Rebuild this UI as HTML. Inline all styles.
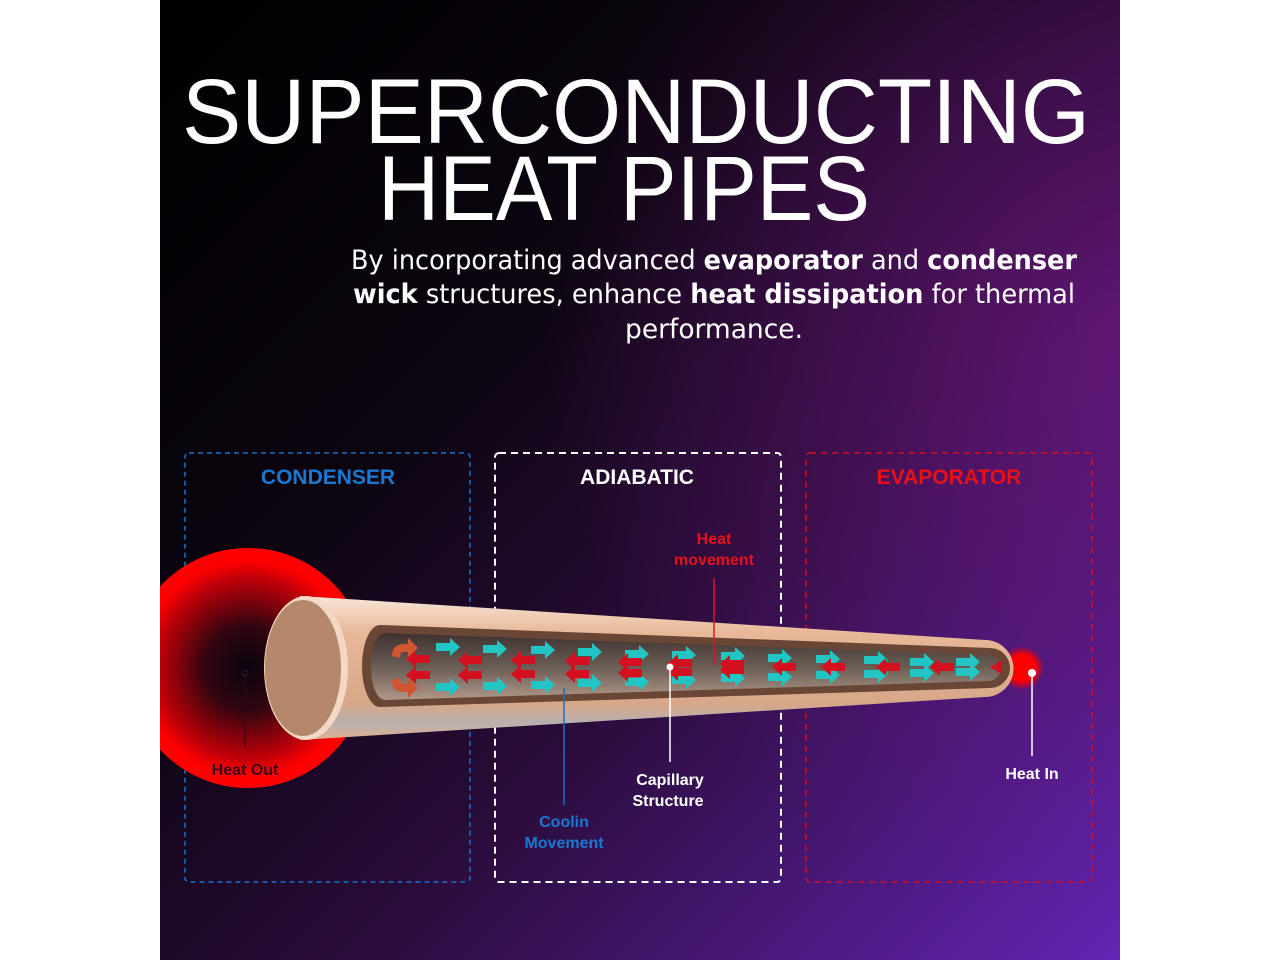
<!DOCTYPE html>
<html><head><meta charset="utf-8"><style>
html,body{margin:0;padding:0;background:#fff;}
svg{display:block;}
</style></head><body>
<svg width="1280" height="960" viewBox="0 0 1280 960" xmlns="http://www.w3.org/2000/svg" font-family="Liberation Sans, DejaVu Sans, sans-serif">
<defs>
<linearGradient id="bg" x1="0" y1="0" x2="1" y2="1">
<stop offset="0" stop-color="#000"/>
<stop offset="0.35" stop-color="#0c0510"/>
<stop offset="0.6" stop-color="#2a0c3a"/>
<stop offset="1" stop-color="#6424b4"/>
</linearGradient>
<radialGradient id="bg2" cx="1" cy="0.35" r="0.6">
<stop offset="0" stop-color="#7a1a8a" stop-opacity="0.6"/>
<stop offset="1" stop-color="#7a1a8a" stop-opacity="0"/>
</radialGradient>
<radialGradient id="glow" cx="0.5" cy="0.5" r="0.5">
<stop offset="0" stop-color="#0a0510"/>
<stop offset="0.35" stop-color="#300510"/>
<stop offset="0.75" stop-color="#c00008"/>
<stop offset="0.9" stop-color="#ff0000"/>
<stop offset="1" stop-color="#ff0000"/>
</radialGradient>
<radialGradient id="tipglow" cx="0.5" cy="0.5" r="0.5">
<stop offset="0.6" stop-color="#ff0000"/>
<stop offset="1" stop-color="#ff0000" stop-opacity="0"/>
</radialGradient>
<linearGradient id="pipe" x1="0" y1="0" x2="0" y2="1">
<stop offset="0" stop-color="#f8e6da"/>
<stop offset="0.25" stop-color="#e8b898"/>
<stop offset="0.75" stop-color="#d8a688"/>
<stop offset="0.88" stop-color="#b8b0b0"/>
<stop offset="1" stop-color="#e0b090"/>
</linearGradient>
<linearGradient id="inner" x1="0" y1="0" x2="0" y2="1">
<stop offset="0" stop-color="#3e3230"/>
<stop offset="0.5" stop-color="#6a5c55"/>
<stop offset="1" stop-color="#b09888"/>
</linearGradient>
<g id="ta"><path d="M-12,-4 H2 V-9 L12,0 L2,9 V4 H-12 Z" fill="#22c4c4"/></g>
<g id="ra"><path d="M12,-4 H-2 V-9 L-12,0 L-2,9 V4 H12 Z" fill="#d41020"/></g>
</defs>
<rect x="0" y="0" width="1280" height="960" fill="#fff"/>
<rect x="160" y="0" width="960" height="960" fill="url(#bg)"/>
<rect x="160" y="0" width="960" height="960" fill="url(#bg2)"/>

<text x="182" y="143" font-size="92" fill="#fff" textLength="908" lengthAdjust="spacingAndGlyphs">SUPERCONDUCTING</text>
<text x="378" y="220" font-size="92" fill="#fff" textLength="492" lengthAdjust="spacingAndGlyphs">HEAT PIPES</text>
<g font-size="27" fill="#fff" text-anchor="middle" font-family="DejaVu Sans Condensed, Liberation Sans, sans-serif">
<text x="714" y="269" textLength="726" lengthAdjust="spacingAndGlyphs">By incorporating advanced <tspan font-weight="bold">evaporator</tspan> and <tspan font-weight="bold">condenser</tspan></text>
<text x="714" y="303" textLength="722" lengthAdjust="spacingAndGlyphs"><tspan font-weight="bold">wick</tspan> structures, enhance <tspan font-weight="bold">heat dissipation</tspan> for thermal</text>
<text x="714" y="338" textLength="178" lengthAdjust="spacingAndGlyphs">performance.</text>
</g>

<rect x="185" y="453" width="285" height="429" rx="4" fill="none" stroke="#1a70c8" stroke-width="1.5" stroke-dasharray="5,4"/>
<rect x="495" y="453" width="286" height="429" rx="4" fill="none" stroke="#fff" stroke-width="2" stroke-dasharray="7,5"/>
<rect x="806" y="453" width="286" height="429" rx="4" fill="none" stroke="#d01020" stroke-width="1.5" stroke-dasharray="6,5"/>
<g font-size="21" font-weight="bold" text-anchor="middle">
<text x="328" y="484" fill="#1a78d0">CONDENSER</text>
<text x="637" y="484" fill="#fff">ADIABATIC</text>
<text x="949" y="484" fill="#e8101a">EVAPORATOR</text>
</g>

<clipPath id="cc"><rect x="160" y="0" width="960" height="960"/></clipPath>
<circle cx="248" cy="668" r="120" fill="url(#glow)" clip-path="url(#cc)"/>
<circle cx="1022" cy="668" r="22" fill="url(#tipglow)"/>

<path d="M300,596 L985,640 A28,28 0 0 1 985,697 L300,740 Z" fill="url(#pipe)"/>
<path d="M380,625 L990,648 A20,20 0 0 1 990,688 L380,707 A18,41 0 0 1 380,625 Z" fill="#6a4636"/>
<path d="M385,633 L988,655 A13,13 0 0 1 988,681 L385,700 A14,33 0 0 1 385,633 Z" fill="url(#inner)"/>
<ellipse cx="306" cy="668" rx="42" ry="72" fill="#f3d8c4"/>
<ellipse cx="303" cy="668" rx="38" ry="68" fill="#b5876b"/>

<g>
<path d="M392,656 q0,-12 12,-12 h4 v-6 l10,10 l-10,10 v-6 h-4 q-4,0 -4,6 z" fill="#d05530"/>
<path d="M392,680 q0,12 12,12 h4 v6 l10,-10 l-10,-10 v6 h-4 q-4,0 -4,-6 z" fill="#d05530"/>
<use href="#ta" x="448" y="647"/><use href="#ta" x="448" y="687"/>
<use href="#ta" x="495" y="649"/><use href="#ta" x="495" y="686"/>
<use href="#ta" x="543" y="650"/><use href="#ta" x="543" y="685"/>
<use href="#ta" x="590" y="652"/><use href="#ta" x="590" y="683"/>
<use href="#ta" x="637" y="654"/><use href="#ta" x="637" y="682"/>
<use href="#ta" x="684" y="655"/><use href="#ta" x="684" y="680"/>
<use href="#ta" x="733" y="656"/><use href="#ta" x="733" y="678"/>
<use href="#ta" x="780" y="658"/><use href="#ta" x="780" y="677"/>
<use href="#ta" x="828" y="659"/><use href="#ta" x="828" y="675"/>
<use href="#ta" x="876" y="660"/><use href="#ta" x="876" y="674"/>
<use href="#ta" x="922" y="662"/><use href="#ta" x="922" y="673"/>
<use href="#ta" x="968" y="662"/><use href="#ta" x="968" y="672"/>
<use href="#ra" x="418" y="659"/><use href="#ra" x="418" y="675"/>
<use href="#ra" x="470" y="660"/><use href="#ra" x="470" y="675"/>
<use href="#ra" x="523" y="660"/><use href="#ra" x="523" y="674"/>
<use href="#ra" x="577" y="661"/><use href="#ra" x="577" y="674"/>
<use href="#ra" x="630" y="662"/><use href="#ra" x="630" y="673"/>
<use href="#ra" x="680" y="663"/><use href="#ra" x="680" y="672"/>
<use href="#ra" x="732" y="664"/><use href="#ra" x="732" y="670"/>
<use href="#ra" x="784" y="667"/>
<use href="#ra" x="833" y="667"/>
<use href="#ra" x="888" y="667"/>
<use href="#ra" x="942" y="667"/>
<path d="M1002,660 L990,667 L1002,674 Z" fill="#d41020"/>
</g>

<line x1="714" y1="578" x2="714" y2="665" stroke="#e01020" stroke-width="1.5"/>
<text x="714" y="544" font-size="16" font-weight="bold" fill="#e8101a" text-anchor="middle">Heat</text>
<text x="714" y="565" font-size="16" font-weight="bold" fill="#e8101a" text-anchor="middle">movement</text>

<line x1="670" y1="667" x2="670" y2="762" stroke="#fff" stroke-width="1.5"/>
<circle cx="670" cy="667" r="3.5" fill="#fff"/>
<text x="670" y="785" font-size="16" font-weight="bold" fill="#fff" text-anchor="middle">Capillary</text>
<text x="668" y="806" font-size="16" font-weight="bold" fill="#fff" text-anchor="middle">Structure</text>

<line x1="564" y1="688" x2="564" y2="805" stroke="#1a70c8" stroke-width="1.5"/>
<text x="564" y="827" font-size="16" font-weight="bold" fill="#1a78d0" text-anchor="middle">Coolin</text>
<text x="564" y="848" font-size="16" font-weight="bold" fill="#1a78d0" text-anchor="middle">Movement</text>

<line x1="1032" y1="674" x2="1032" y2="756" stroke="#fff" stroke-width="1.5"/>
<circle cx="1032" cy="673" r="4" fill="#fff"/>
<text x="1032" y="779" font-size="16" font-weight="bold" fill="#fff" text-anchor="middle">Heat In</text>

<line x1="245" y1="673" x2="245" y2="748" stroke="#2a0a20" stroke-width="1"/>
<circle cx="245" cy="673" r="3" fill="none" stroke="#3a1a30" stroke-width="1"/>
<text x="245" y="775" font-size="16" font-weight="bold" fill="#3a0a1e" text-anchor="middle">Heat Out</text>
</svg>
</body></html>
